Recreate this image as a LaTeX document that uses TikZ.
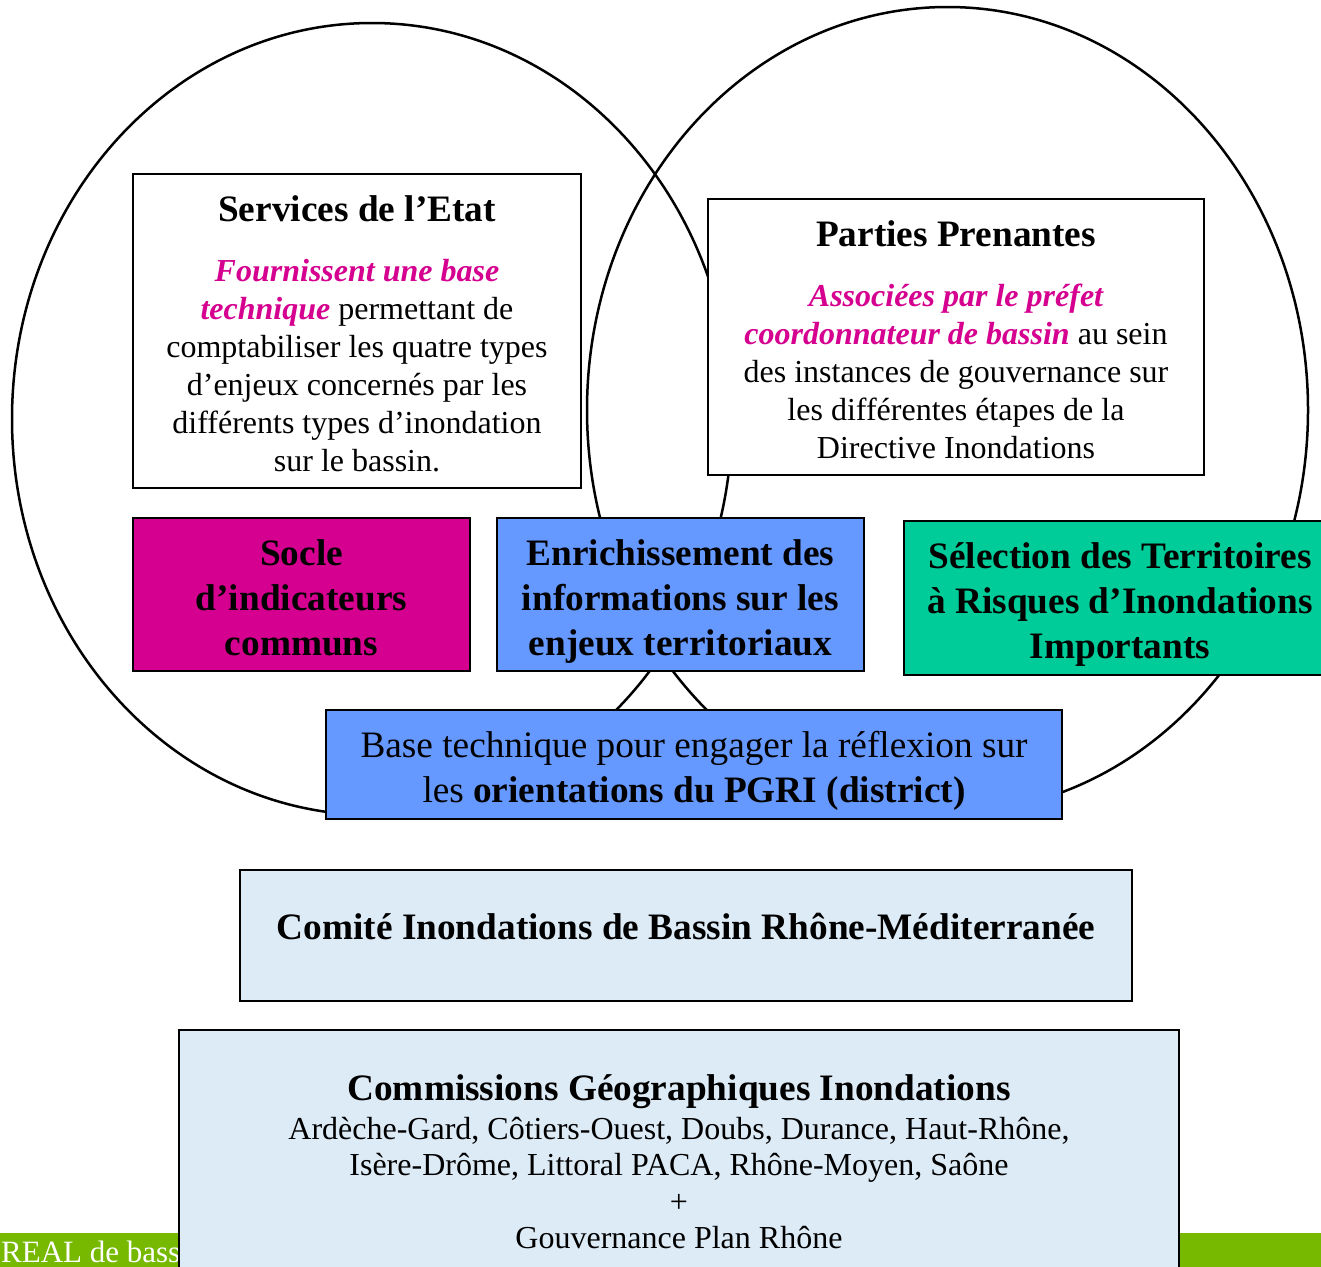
\documentclass[tikz,border=0pt]{standalone}
\usepackage{fontspec}
\setmainfont{Liberation Serif}
\definecolor{mag}{RGB}{213,0,143}
\definecolor{bluebox}{RGB}{102,153,255}
\definecolor{greenbox}{RGB}{0,204,153}
\definecolor{lightblue}{RGB}{221,235,247}
\definecolor{barcol}{RGB}{118,185,0}
\newcommand\bodyf{\fontsize{32}{38}\selectfont}
\newcommand\bigf{\fontsize{37.3}{45}\selectfont}
\tikzset{
  boxshape/.style={draw=black, line width=2pt, rectangle, inner sep=0pt, outer sep=0pt},
  txt/.style={align=center, inner sep=0pt},
  venn/.style={draw=black, line width=2.5pt}
}
\begin{document}
\begin{tikzpicture}[x=1pt,y=-1pt]
\useasboundingbox (0,0) rectangle (1321,1266);
% background bar
\fill[barcol] (-5,1233) rectangle (1330,1280);
\node[txt, anchor=west, text=white, font=\fontsize{31}{36}\selectfont] (bartxt) at (1,1252) {REAL de bassin};
% ellipses
\draw[venn] (372,419) ellipse [x radius=360pt, y radius=396pt];
\draw[venn] (947.5,410) ellipse [x radius=360.5pt, y radius=403pt];
% upper boxes
\node[boxshape, fill=white, minimum width=448pt, minimum height=314pt] (svc) at (357,331) {};
\node[txt, font=\bigf\bfseries] (svct) at (357,209) {Services de l’Etat};
\node[txt, font=\bodyf] (svcb) at (357,366) {{\color{mag}\bfseries\itshape Fournissent une base}\\
{\color{mag}\bfseries\itshape technique} permettant de\\
comptabiliser les quatre types\\
d’enjeux concernés par les\\
différents types d’inondation\\
sur le bassin.};
\node[boxshape, fill=white, minimum width=496pt, minimum height=276pt] (pp) at (956,337) {};
\node[txt, font=\bigf\bfseries] (ppt) at (956,234) {Parties Prenantes};
\node[txt, font=\bodyf] (ppb) at (956,371) {{\color{mag}\bfseries\itshape Associées par le préfet}\\
{\color{mag}\bfseries\itshape coordonnateur de bassin} au sein\\
des instances de gouvernance sur\\
les différentes étapes de la\\
Directive Inondations};
% middle boxes
\node[boxshape, fill=mag, minimum width=337pt, minimum height=153pt] (socle) at (301.5,594.5) {};
\node[txt, font=\bigf\bfseries] (soclet) at (301.5,598) {Socle\\d’indicateurs\\communs};
\node[boxshape, fill=bluebox, minimum width=367pt, minimum height=153pt] (enr) at (680.5,594.5) {};
\node[txt, font=\bigf\bfseries] (enrt) at (680.5,602) {Enrichissement des\\informations sur les\\enjeux territoriaux};
\node[boxshape, fill=greenbox, minimum width=436pt, minimum height=154pt] (sel) at (1122,598) {};
\node[txt, font=\bigf\bfseries] (selt) at (1120,605) {Sélection des Territoires\\à Risques d’Inondations\\Importants};
\node[boxshape, fill=bluebox, minimum width=736pt, minimum height=109pt] (base) at (694,764.5) {};
\node[txt, font=\bigf] (baset) at (694,770.5) {Base technique pour engager la réflexion sur\\les \textbf{orientations du PGRI (district)}};
% lower boxes
\node[boxshape, fill=lightblue, minimum width=892pt, minimum height=131pt] (comite) at (686,935.5) {};
\node[txt, font=\bigf\bfseries] (comitet) at (686,927) {Comité Inondations de Bassin Rhône-Méditerranée};
\node[boxshape, fill=lightblue, minimum width=1000pt, minimum height=270pt] (comm) at (679,1165) {};
\node[txt, font=\bigf\bfseries] (commt) at (679,1092) {Commissions Géographiques Inondations};
\node[txt, font=\fontsize{32}{36.3}\selectfont] (commb) at (679,1183) {Ardèche-Gard, Côtiers-Ouest, Doubs, Durance, Haut-Rhône,\\
Isère-Drôme, Littoral PACA, Rhône-Moyen, Saône\\
+\\
Gouvernance Plan Rhône};
\end{tikzpicture}
\end{document}
